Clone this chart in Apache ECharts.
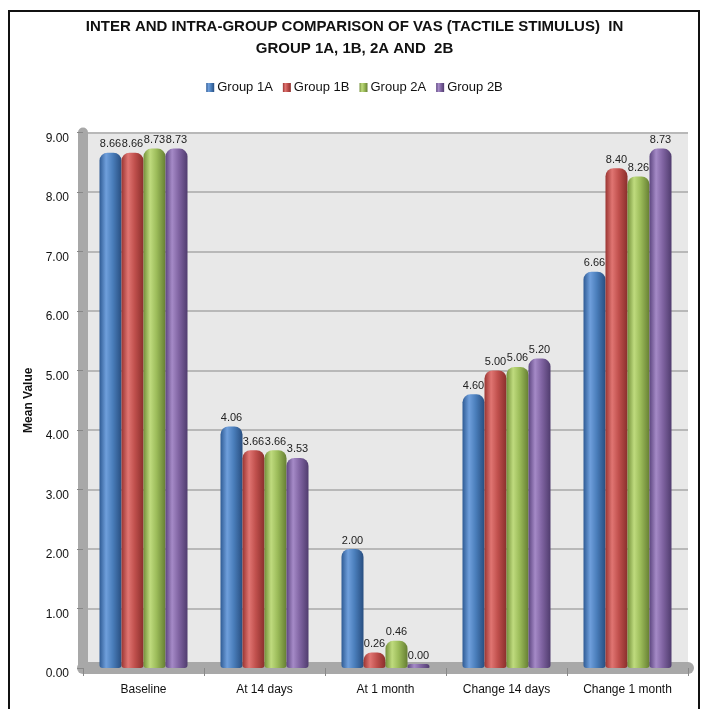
<!DOCTYPE html>
<html><head><meta charset="utf-8">
<script src="https://cdn.jsdelivr.net/npm/echarts@6/dist/echarts.min.js"></script>
<style>
html,body{margin:0;padding:0;background:#fff;}
#c{width:709px;height:709px;position:absolute;left:0;top:0;}
#frame{position:absolute;left:8px;top:10px;width:692px;height:705px;border:2px solid #111;box-sizing:border-box;pointer-events:none;}
</style></head>
<body>
<div id="c"></div>
<div id="frame"></div>
<script>
var categories = ['Baseline', 'At 14 days', 'At 1 month', 'Change 14 days', 'Change 1 month'];
var seriesNames = ['Group 1A', 'Group 1B', 'Group 2A', 'Group 2B'];
var group1A = [8.66, 4.06, 2.00, 4.60, 6.66];
var group1B = [8.66, 3.66, 0.26, 5.00, 8.40];
var group2A = [8.73, 3.66, 0.46, 5.06, 8.26];
var group2B = [8.73, 3.53, 0.00, 5.20, 8.73];
var yTicks = [0, 1, 2, 3, 4, 5, 6, 7, 8, 9];

var FONT = "'Liberation Sans', Arial, sans-serif";

var palettes = [
  ['#2f5b94', '#6f9fdc', '#4a7ebb', '#284e80'],
  ['#9a3532', '#e07572', '#c0504d', '#8a2f2c'],
  ['#74913a', '#bfdb7e', '#9bbb59', '#667f33'],
  ['#5d4680', '#a58ac7', '#8064a2', '#503c6e']
];
var allData = [group1A, group1B, group2A, group2B];

function grad(p) {
  return new echarts.graphic.LinearGradient(0, 0, 1, 0, [
    {offset: 0, color: p[0]},
    {offset: 0.3, color: p[1]},
    {offset: 0.6, color: p[2]},
    {offset: 1, color: p[3]}
  ]);
}

var series = seriesNames.map(function (n, i) {
  return {
    name: n,
    type: 'bar',
    data: allData[i],
    barWidth: 22,
    barGap: '0%',
    barMinHeight: 4,
    itemStyle: {color: grad(palettes[i]), borderRadius: [8, 8, 3, 3]},
    label: {
      show: true, position: 'top', distance: 3,
      formatter: function (p) { return p.value.toFixed(2); },
      fontFamily: FONT, fontSize: 11, color: '#222'
    }
  };
});

var chart = echarts.init(document.getElementById('c'), null, {renderer: 'canvas'});
chart.setOption({
  animation: false,
  color: ['#4a7ebb', '#c0504d', '#9bbb59', '#8064a2'],
  title: {
    text: 'INTER AND INTRA-GROUP COMPARISON OF VAS (TACTILE STIMULUS)  IN\nGROUP 1A, 1B, 2A AND  2B',
    left: 'center', top: 11,
    textStyle: {
      fontFamily: FONT, fontWeight: 'bold', fontSize: 15, lineHeight: 22, color: '#111'
    }
  },
  legend: {
    top: 76, left: 'center',
    itemWidth: 8, itemHeight: 9, itemGap: 10,
    icon: 'rect',
    textStyle: {fontFamily: FONT, fontSize: 13, color: '#111', padding: [0, 0, 0, -2]}
  },
  grid: {
    left: 83, right: 21, top: 132.5, bottom: 41,
    show: true, backgroundColor: '#e8e8e8', borderWidth: 0
  },
  xAxis: {
    type: 'category', data: categories,
    axisLine: {show: true, lineStyle: {color: '#a8a8a8', width: 12}},
    axisTick: {show: true, alignWithLabel: false, length: 8, lineStyle: {color: '#888'}},
    axisLabel: {
      interval: 0, margin: 16, fontSize: 12, color: '#111', fontFamily: FONT
    }
  },
  yAxis: {
    type: 'value', min: 0, max: 9, interval: 1,
    name: 'Mean Value', nameLocation: 'middle', nameGap: 44,
    nameTextStyle: {fontFamily: FONT, fontWeight: 'bold', fontSize: 12, color: '#111'},
    axisLine: {show: true, lineStyle: {color: '#a8a8a8', width: 10}},
    axisTick: {show: true, length: 6, lineStyle: {color: '#888'}},
    splitLine: {show: true, lineStyle: {color: '#b8b8b8', width: 2}},
    axisLabel: {
      margin: 14, fontSize: 12, color: '#111', fontFamily: FONT,
      verticalAlign: 'top',
      formatter: function (v) { return yTicks.indexOf(v) >= 0 ? v.toFixed(2) : ''; }
    }
  },
  series: series
});
</script>
</body></html>
